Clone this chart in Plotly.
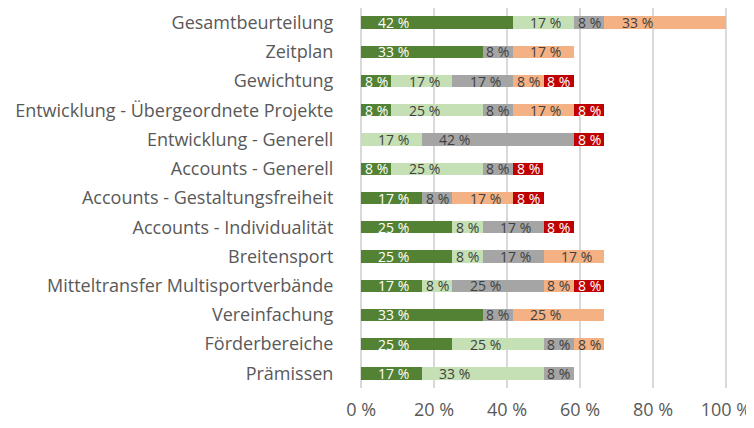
import plotly.graph_objects as go

categories = [
    "Gesamtbeurteilung",
    "Zeitplan",
    "Gewichtung",
    "Entwicklung - Übergeordnete Projekte",
    "Entwicklung - Generell",
    "Accounts - Generell",
    "Accounts - Gestaltungsfreiheit",
    "Accounts - Individualität",
    "Breitensport",
    "Mitteltransfer Multisportverbände",
    "Vereinfachung",
    "Förderbereiche",
    "Prämissen",
]

series_names = ["sehr gut", "gut", "neutral", "schlecht", "sehr schlecht"]

s_dark_green = [41.67, 33.33, 8.33, 8.33, 0, 8.33, 16.67, 25.0, 25.0, 16.67, 33.33, 25.0, 16.67]
s_light_green = [16.67, 0, 16.67, 25.0, 16.67, 25.0, 0, 8.33, 8.33, 8.33, 0, 25.0, 33.33]
s_gray = [8.33, 8.33, 16.67, 8.33, 41.67, 8.33, 8.33, 16.67, 16.67, 25.0, 8.33, 8.33, 8.33]
s_orange = [33.33, 16.67, 8.33, 16.67, 0, 0, 16.67, 0, 16.67, 8.33, 25.0, 8.33, 0]
s_red = [0, 0, 8.33, 8.33, 8.33, 8.33, 8.33, 8.33, 0, 8.33, 0, 0, 0]

x_ticks = [0, 20, 40, 60, 80, 100]
x_tick_labels = ["0 %", "20 %", "40 %", "60 %", "80 %", "100 %"]

series = [s_dark_green, s_light_green, s_gray, s_orange, s_red]
colors = ["#548235", "#C5E0B4", "#A5A5A5", "#F4B183", "#C00000"]
text_colors = ["#FFFFFF", "#404040", "#404040", "#404040", "#FFFFFF"]

FONT = "Open Sans"

fig = go.Figure()
for name, vals, col in zip(series_names, series, colors):
    fig.add_trace(go.Bar(
        y=categories, x=vals, name=name, orientation="h",
        marker=dict(color=col, line=dict(width=0)),
        hoverinfo="x+y+name",
    ))

# data labels near the base of each segment
annotations = []
for i, cat in enumerate(categories):
    start = 0.0
    for vals, tcol in zip(series, text_colors):
        v = vals[i]
        if v > 0:
            if v < 10:
                x, anchor = start + v / 2, "center"
            else:
                x, anchor = start + 4.2, "left"
            annotations.append(dict(
                x=x, y=cat, xref="x", yref="y", text=f"{round(v)} %",
                showarrow=False, xanchor=anchor, yanchor="middle",
                font=dict(family=FONT, size=14, color=tcol),
            ))
        start += v

# the page body adds an 8px margin, so the figure is smaller than the window
fig.update_layout(
    barmode="stack",
    bargap=0.58,
    width=746, height=412,
    margin=dict(l=352, r=27, t=0, b=32),
    paper_bgcolor="white", plot_bgcolor="white",
    showlegend=False,
    annotations=annotations,
    font=dict(family=FONT, color="#595959"),
    xaxis=dict(
        range=[-0.3, 100.3], tickvals=x_ticks, ticktext=x_tick_labels,
        showgrid=True, gridcolor="#D9D9D9", gridwidth=2,
        zeroline=False, showline=False, automargin=False,
        ticklabeloverflow="allow",
        ticks="outside", ticklen=5, tickcolor="rgba(0,0,0,0)",
        tickfont=dict(family=FONT, size=18, color="#595959"),
        fixedrange=True,
    ),
    yaxis=dict(
        autorange="reversed", showgrid=False, zeroline=False, showline=False,
        automargin=False,
        ticks="outside", ticklen=22, tickcolor="rgba(0,0,0,0)",
        tickfont=dict(family=FONT, size=18, color="#595959"),
        fixedrange=True,
    ),
)

fig.write_html("out.html")
